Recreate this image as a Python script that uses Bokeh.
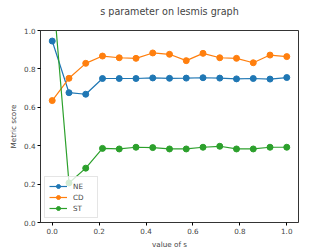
from bokeh.plotting import figure
from bokeh.models import FixedTicker, PrintfTickFormatter, Range1d, Legend, LegendItem, Title
from bokeh.embed import file_html
from bokeh.resources import INLINE

s_values = [i / 14 for i in range(15)]
ne = [0.945, 0.676, 0.668, 0.750, 0.750, 0.750, 0.753, 0.751, 0.752, 0.754, 0.752, 0.748, 0.750, 0.747, 0.755]
cd = [0.635, 0.751, 0.829, 0.867, 0.858, 0.855, 0.883, 0.876, 0.843, 0.881, 0.858, 0.855, 0.832, 0.872, 0.864]
st = [1.25, 0.206, 0.283, 0.386, 0.383, 0.392, 0.390, 0.383, 0.383, 0.392, 0.397, 0.383, 0.383, 0.392, 0.392]
series_names = ["NE", "CD", "ST"]
colors = ["#1f77b4", "#ff7f0e", "#2ca02c"]
ticks = [0.0, 0.2, 0.4, 0.6, 0.8, 1.0]
title_text = "s parameter on lesmis graph"

FONT = "DejaVu Sans"

p = figure(output_backend="svg", toolbar_location=None,
           frame_width=258, frame_height=192,
           x_range=Range1d(-0.05, 1.05), y_range=Range1d(0, 1),
           min_border_left=40, min_border_right=18, min_border_top=30, min_border_bottom=19,
           title=title_text)
p.title.align = "center"
p.title.vertical_align = "top"
p.title.text_font = FONT
p.title.text_font_size = "9.6px"
p.title.text_font_style = "normal"
p.title.offset = 0
p.title.standoff = 6

# empty spacer between the title and the frame
p.add_layout(Title(text=" ", text_font_size="7px", standoff=0), "above")

p.xgrid.visible = False
p.ygrid.visible = False
p.outline_line_color = "black"
p.outline_line_width = 0.8

for ax, lab in ((p.xaxis, "value of s"), (p.yaxis, "Metric score")):
    ax.ticker = FixedTicker(ticks=ticks)
    ax.formatter = PrintfTickFormatter(format="%.1f")
    ax.axis_label = lab
    ax.axis_label_text_font = FONT
    ax.axis_label_text_font_size = "7.2px"
    ax.axis_label_text_font_style = "normal"
    ax.major_label_text_font = FONT
    ax.major_label_text_font_size = "7.2px"
    ax.major_tick_out = 3
    ax.major_tick_in = 0
    ax.minor_tick_out = 0
    ax.minor_tick_in = 0
    ax.axis_line_color = None
    ax.major_label_standoff = 2
    ax.axis_label_standoff = 3

items = []
for name, vals, col in zip(series_names, [ne, cd, st], colors):
    r1 = p.line(s_values, vals, line_color=col, line_width=1.2)
    r2 = p.scatter(s_values, vals, size=6, fill_color=col, line_color=col)
    items.append(LegendItem(label=name, renderers=[r1, r2]))

legend = Legend(items=items, location="bottom_left")
legend.label_text_font = FONT
legend.label_text_font_size = "7.2px"
legend.glyph_width = 18
legend.glyph_height = 10
legend.spacing = 1
legend.padding = 4
legend.margin = 4
legend.label_standoff = 6
legend.label_height = 10
legend.border_line_color = "#cccccc"
legend.background_fill_alpha = 0.8
p.add_layout(legend)

open("out.html", "w").write(file_html(p, INLINE))
